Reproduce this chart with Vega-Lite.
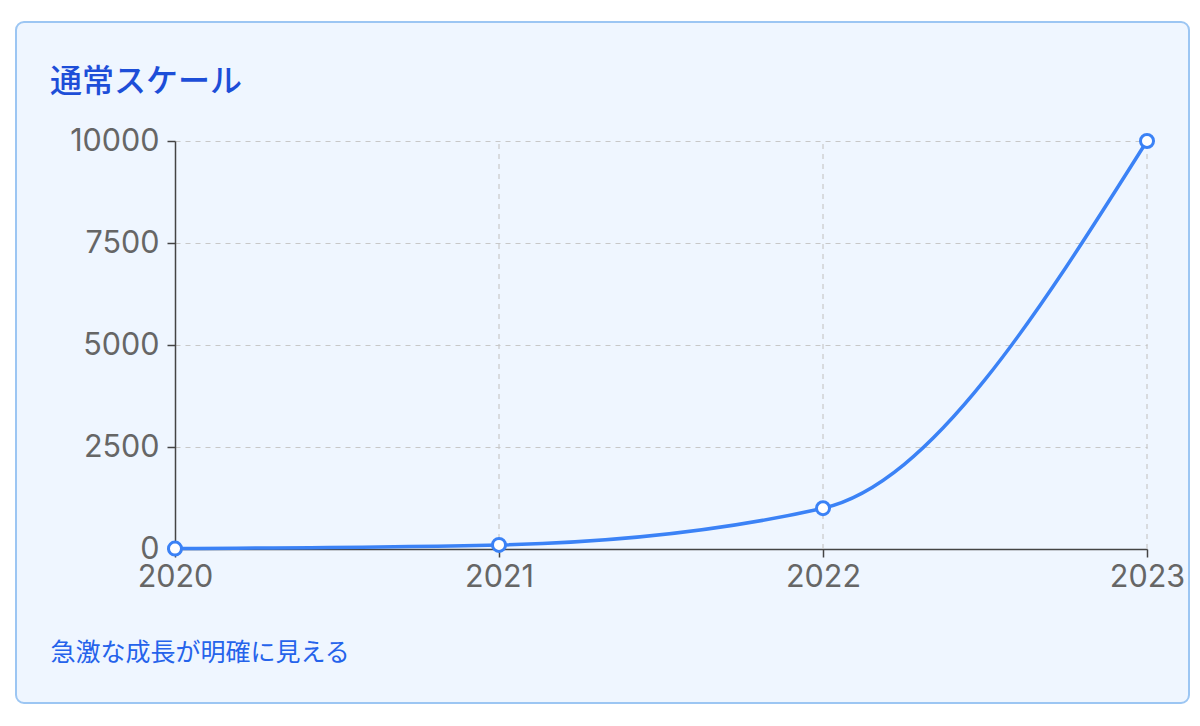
{
  "$schema": "https://vega.github.io/schema/vega-lite/v6.json",
  "autosize": {"type": "none"},
  "width": 1173,
  "height": 681,
  "padding": {"top": 22, "left": 16, "right": 11, "bottom": 23},
  "background": "white",
  "config": {
    "view": {"fill": "#EFF6FF", "stroke": "#9CC6F3", "strokeWidth": 2, "cornerRadius": 8},
    "axis": {
      "labelFont": "Inter",
      "labelFontSize": 30.5,
      "labelColor": "#666666",
      "domainColor": "#444444",
      "domainWidth": 1.5,
      "tickColor": "#444444",
      "tickWidth": 1.5,
      "tickSize": 8,
      "gridColor": "#C8C8C8",
      "gridDash": [5, 5],
      "gridWidth": 1.2
    }
  },
  "title": {
    "text": "通常スケール",
    "anchor": "start",
    "frame": "group",
    "orient": "top",
    "offset": -102,
    "dx": 34,
    "baseline": "alphabetic",
    "font": "Noto Sans CJK JP",
    "fontSize": 32,
    "fontWeight": 500,
    "color": "#1D4ED8"
  },
  "data": {
    "values": [
      {"year": 2020, "value": 10},
      {"year": 2021, "value": 100},
      {"year": 2022, "value": 1000},
      {"year": 2023, "value": 10000}
    ]
  },
  "encoding": {
    "x": {
      "field": "year",
      "type": "quantitative",
      "scale": {"domain": [2020, 2023], "range": [159, 1131], "nice": false, "zero": false},
      "axis": {
        "orient": "bottom",
        "offset": -154,
        "values": [2020, 2021, 2022, 2023],
        "format": "d",
        "labelFlush": false,
        "labelPadding": 5,
        "grid": false,
        "title": "急激な成長が明確に見える",
        "titleFont": "Noto Sans CJK JP",
        "titleFontSize": 25,
        "titleFontWeight": "normal",
        "titleColor": "#2563EB",
        "titleAlign": "left",
        "titleBaseline": "alphabetic",
        "titleX": 34,
        "titleY": 111
      }
    },
    "y": {
      "field": "value",
      "type": "quantitative",
      "scale": {"domain": [0, 10000], "range": [527, 119], "nice": false},
      "axis": {
        "orient": "left",
        "offset": -159,
        "values": [0, 2500, 5000, 7500, 10000],
        "format": "d",
        "labelPadding": 8,
        "grid": true,
        "title": null
      }
    }
  },
  "layer": [
    {
      "transform": [{"filter": "datum.year > 2020"}],
      "mark": {"type": "rule", "stroke": "#C8C8C8", "strokeDash": [5, 5], "strokeWidth": 1.2},
      "encoding": {
        "y": {"datum": 0, "type": "quantitative"},
        "y2": {"datum": 10000}
      }
    },
    {
      "mark": {"type": "line", "interpolate": "monotone", "stroke": "#3B82F6", "strokeWidth": 3.5}
    },
    {
      "mark": {"type": "point", "filled": true, "fill": "white", "stroke": "#3B82F6", "strokeWidth": 3, "size": 170, "opacity": 1}
    }
  ]
}
